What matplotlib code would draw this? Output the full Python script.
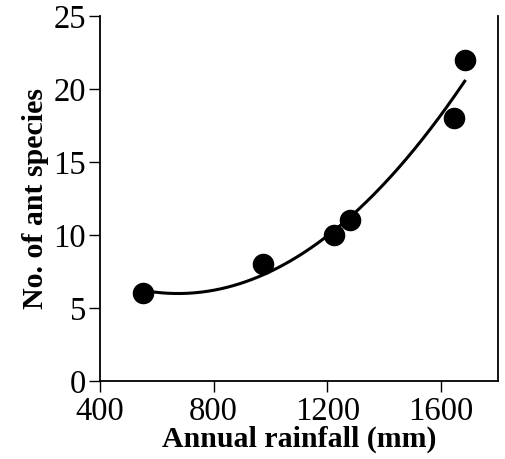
import numpy as np
import matplotlib.pyplot as plt

plt.rcParams['font.family'] = ['Liberation Serif', 'DejaVu Serif']

# data
rainfall = [551, 973, 1222, 1281, 1645, 1683]
species = [6, 8, 10, 11, 18, 22]

xticks = [400, 800, 1200, 1600]
yticks = [0, 5, 10, 15, 20, 25]

fig = plt.figure(figsize=(5.05, 4.59), dpi=100)
ax = fig.add_axes([0.198, 0.170, 0.788, 0.795])

# quadratic fit through the points
coef = np.polyfit(rainfall, species, 2)
xs = np.linspace(min(rainfall), max(rainfall), 200)
ax.plot(xs, np.polyval(coef, xs), color='black', lw=2.2, zorder=2)

ax.plot(rainfall, species, 'o', color='black', ms=14.5, zorder=3)

ax.set_xlim(400, 1800)
ax.set_ylim(0, 25)
ax.set_xticks(xticks)
ax.set_yticks(yticks)
ax.tick_params(labelsize=23.5, length=8, width=1, direction='out')
ax.tick_params(axis='x', pad=3)
ax.tick_params(axis='y', pad=2)
for lab in ax.get_yticklabels():
    lab.set_va('center_baseline')
ax.spines['top'].set_visible(False)
for s in ['left', 'bottom', 'right']:
    ax.spines[s].set_linewidth(1.3)

ax.set_xlabel('Annual rainfall (mm)', fontsize=21.5, fontweight='bold', labelpad=-0.5)
ax.set_ylabel('No. of ant species', fontsize=21.5, fontweight='bold', labelpad=3)

fig.savefig('out.png', dpi=100)
